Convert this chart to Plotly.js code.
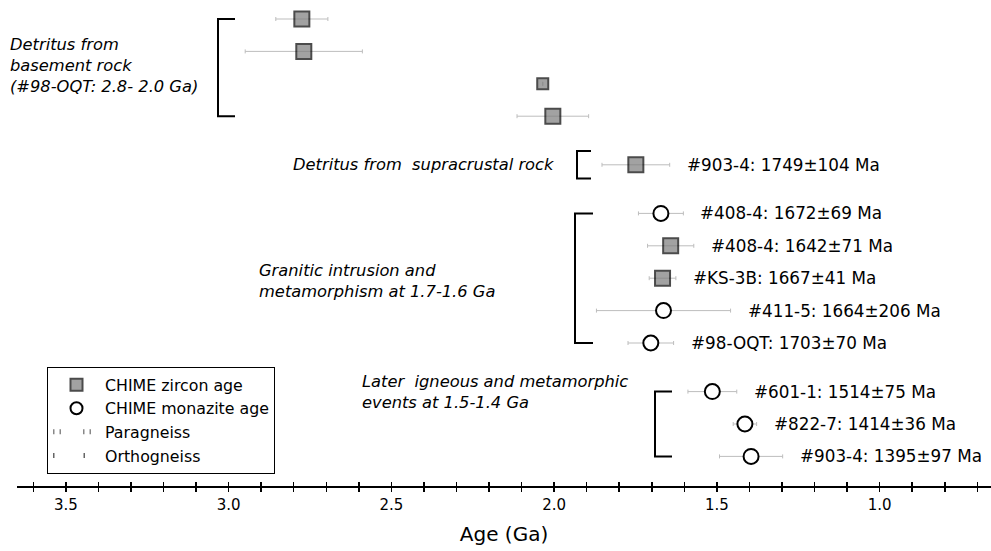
<!DOCTYPE html>
<html><head><meta charset="utf-8">
<script src="https://cdn.plot.ly/plotly-3.0.1.min.js"></script>
<style>body{margin:0;background:#fff}#chart{width:991px;height:551px}</style>
</head><body><div id="chart"></div>
<script>
// ---- data ----
const sampleIds = ['', '', '', '', '#903-4', '#408-4', '#408-4', '#KS-3B', '#411-5', '#98-OQT', '#601-1', '#822-7', '#903-4'];
const ageGa     = [2.775, 2.769, 2.035, 2.004, 1.749, 1.672, 1.642, 1.667, 1.664, 1.703, 1.514, 1.414, 1.395];
const errGa     = [0.08, 0.18, 0, 0.11, 0.104, 0.069, 0.071, 0.041, 0.206, 0.070, 0.075, 0.036, 0.097];
const mineral   = ['zircon', 'zircon', 'zircon', 'zircon', 'zircon', 'monazite', 'zircon', 'zircon', 'monazite', 'monazite', 'monazite', 'monazite', 'monazite'];
const groupOf   = [0, 0, 0, 0, 1, 2, 2, 2, 2, 2, 3, 3, 3];
const groupLabels = [
  'Detritus from<br>basement rock<br>(#98-OQT: 2.8- 2.0 Ga)',
  'Detritus from  supracrustal rock',
  'Granitic intrusion and<br>metamorphism at 1.7-1.6 Ga',
  'Later  igneous and metamorphic<br>events at 1.5-1.4 Ga'
];
const legendNames = ['CHIME zircon age', 'CHIME monazite age', 'Paragneiss', 'Orthogneiss'];
const tickValues = [3.5, 3.0, 2.5, 2.0, 1.5, 1.0];
const axisTitle = 'Age (Ga)';

// ---- layout helpers ----
const W = 991, H = 551, ML = 17, MR = 0, MT = 0, MB = 65;
const PW = W - ML - MR, PH = H - MT - MB;
const pxX = px => (px - ML) / PW;
const pxY = py => 1 - (py - MT) / PH;
const SLOT_PX = 16.2, SLOT0_PX = 19;
const FONT = 'DejaVu Sans';

// vertical slot of each sample: 2 per row, 3 between groups
const slot = [];
let s = 0;
for (let i = 0; i < ageGa.length; i++) {
  if (i > 0) s += (groupOf[i] !== groupOf[i - 1]) ? 3 : 2;
  slot.push(s);
}

function pick(arr, m) { return arr.filter((_, i) => mineral[i] === m); }

const zircon = {
  type: 'scatter', mode: 'markers', name: legendNames[0],
  x: pick(ageGa, 'zircon'), y: pick(slot, 'zircon'),
  error_x: { type: 'data', array: pick(errGa, 'zircon'), visible: true, color: '#bdbdbd', thickness: 1, width: 2 },
  marker: { symbol: 'square', size: pick(errGa, 'zircon').map(e => e === 0 ? 11 : 15), color: '#7c7c7c', line: { color: '#000', width: 2 } },
  hoverinfo: 'x'
};
const monazite = {
  type: 'scatter', mode: 'markers', name: legendNames[1],
  x: pick(ageGa, 'monazite'), y: pick(slot, 'monazite'),
  error_x: { type: 'data', array: pick(errGa, 'monazite'), visible: true, color: '#bdbdbd', thickness: 1, width: 2 },
  marker: { symbol: 'circle', size: 15, color: '#fff', line: { color: '#000', width: 2 } },
  hoverinfo: 'x'
};
const para = { type: 'scatter', mode: 'lines', name: legendNames[2], x: [null], y: [null], line: { color: '#888', width: 1.5, dash: '1.5px,5px,1.5px,22px' } };
const ortho = { type: 'scatter', mode: 'lines', name: legendNames[3], x: [null], y: [null], line: { color: '#666', width: 1.5, dash: '1.5px,29px' } };
const dummy2 = { type: 'scatter', mode: 'markers', x: [null], y: [null], xaxis: 'x2', showlegend: false, hoverinfo: 'skip' };

// sample labels
const annotations = [];
for (let i = 0; i < ageGa.length; i++) {
  if (!sampleIds[i]) continue;
  annotations.push({
    x: ageGa[i] - errGa[i], y: slot[i], xref: 'x', yref: 'y',
    xanchor: 'left', yanchor: 'middle', xshift: 15, showarrow: false,
    text: `${sampleIds[i]}: ${Math.round(ageGa[i] * 1000)}±${Math.round(errGa[i] * 1000)} Ma`,
    font: { family: FONT, size: 16.8, color: '#000' }
  });
}
// group labels & brackets
const labelPos = [ // [px x, anchor, px y]
  [8, 'left', 65], [556, 'right', 164], [257, 'left', 281], [360, 'left', 392]
];
const bracketX = [[218, 235], [577, 591], [575, 593], [655, 672]];
const shapes = [];
for (let g = 0; g < groupLabels.length; g++) {
  annotations.push({
    x: pxX(labelPos[g][0]), y: pxY(labelPos[g][2]), xref: 'paper', yref: 'paper',
    xanchor: labelPos[g][1], yanchor: 'middle', align: 'left', showarrow: false,
    text: '<i>' + groupLabels[g] + '</i>',
    font: { family: FONT, size: 16.3, color: '#000' }
  });
  const sl = slot.filter((_, i) => groupOf[i] === g);
  let top = Math.min(...sl), bot = Math.max(...sl);
  if (top === bot) { top -= 0.85; bot += 0.85; }
  const [bx0, bx1] = bracketX[g];
  const ln = { color: '#000', width: 2 };
  shapes.push({ type: 'path', xref: 'paper', yref: 'y', line: ln,
    path: `M ${pxX(bx1)} ${top} L ${pxX(bx0)} ${top} L ${pxX(bx0)} ${bot} L ${pxX(bx1)} ${bot}` });
}

const layout = {
  width: W, height: H, margin: { l: ML, r: MR, t: MT, b: MB, pad: 0 },
  paper_bgcolor: '#fff', plot_bgcolor: '#fff',
  font: { family: FONT, size: 15, color: '#000' },
  showlegend: true,
  legend: {
    x: pxX(47), y: pxY(367), xanchor: 'left', yanchor: 'top',
    bgcolor: '#fff', bordercolor: '#000', borderwidth: 1,
    font: { family: FONT, size: 15.8, color: '#000' }, itemwidth: 47, tracegroupgap: 0,
    itemsizing: 'constant'
  },
  xaxis: {
    range: [3.65, 0.658], showgrid: false, zeroline: false,
    showline: true, linecolor: '#000', linewidth: 2,
    tickmode: 'array', tickvals: tickValues, ticktext: tickValues.map(v => v.toFixed(1)),
    ticks: 'outside', ticklen: 4, tickwidth: 1.5, tickcolor: '#000',
    minor: { dtick: 0.1, tick0: 0, ticks: 'outside', ticklen: 4, tickwidth: 1.5, tickcolor: '#000' },
    tickfont: { family: FONT, size: 15, color: '#000' },
    title: { text: axisTitle, font: { family: FONT, size: 20, color: '#000' }, standoff: 14 },
    automargin: false, fixedrange: true
  },
  xaxis2: {
    overlaying: 'x', matches: 'x', anchor: 'y', side: 'bottom',
    showgrid: false, zeroline: false, showline: false, showticklabels: false,
    tickmode: 'array', tickvals: tickValues,
    ticks: 'inside', ticklen: 4, tickwidth: 1.5, tickcolor: '#000',
    minor: { dtick: 0.1, tick0: 0, ticks: 'inside', ticklen: 4, tickwidth: 1.5, tickcolor: '#000' }
  },
  yaxis: {
    range: [(PH - SLOT0_PX) / SLOT_PX, -SLOT0_PX / SLOT_PX],
    visible: false, showgrid: false, zeroline: false, fixedrange: true
  },
  annotations: annotations,
  shapes: shapes
};

Plotly.newPlot('chart', [zircon, monazite, para, ortho, dummy2], layout, { staticPlot: true, displayModeBar: false });
</script>
</body></html>
